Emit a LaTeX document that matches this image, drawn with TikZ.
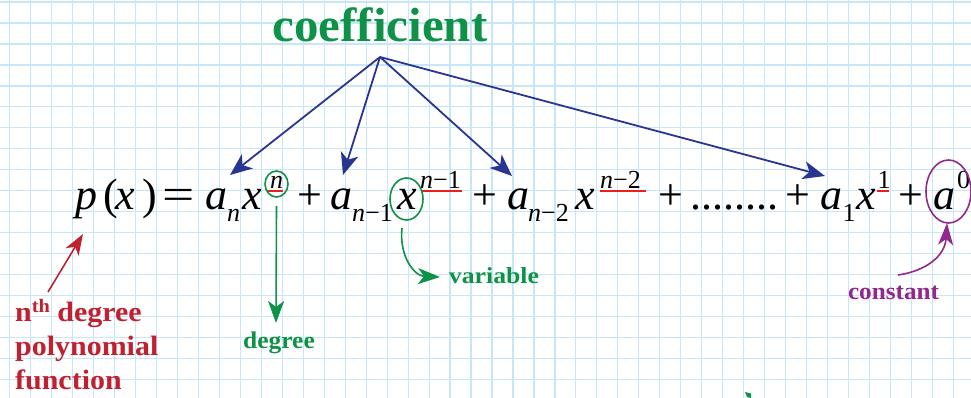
\documentclass[tikz,border=0pt]{standalone}
\usepackage{fontspec}
\setmainfont{Liberation Serif}
\usetikzlibrary{arrows.meta,shapes.geometric}
\definecolor{gridc}{RGB}{200,230,250}
\definecolor{cgreen}{RGB}{14,146,72}
\definecolor{cblue}{RGB}{40,54,145}
\definecolor{cred}{RGB}{192,32,48}
\definecolor{cpurple}{RGB}{146,40,142}
\definecolor{uline}{RGB}{235,30,30}
\tikzset{
  gridline/.style={draw=gridc,line width=1.2pt},
  mathbig/.style={inner sep=0pt,anchor=base west,font=\fontsize{44}{48}\selectfont},
  mathsmall/.style={inner sep=0pt,anchor=base west,font=\fontsize{26}{28}\selectfont},
  ring/.style={ellipse,draw,line width=1.6pt,inner sep=0pt},
  bluearrow/.style={draw=cblue,line width=1.8pt,-{Stealth[length=22pt,width=18pt,inset=6pt]}},
  greenarrow/.style={draw=cgreen,line width=1.6pt,-{Stealth[length=22pt,width=16pt,inset=6pt]}},
  redarrow/.style={draw=cred,line width=1.6pt,-{Stealth[length=21pt,width=15pt,inset=6pt]}},
  purplearrow/.style={draw=cpurple,line width=1.6pt,-{Stealth[length=22pt,width=15pt,inset=6pt]}},
  ulinestyle/.style={draw=uline,line width=2pt},
  lbl/.style={inner sep=0pt,font=\bfseries},
  redlbl/.style={inner sep=0pt,text=cred,anchor=base west,font=\bfseries\fontsize{28}{34}\selectfont}
}
\begin{document}
\begin{tikzpicture}[x=1pt,y=-1pt]
\useasboundingbox (0,0) rectangle (971,398);
\fill[white] (0,0) rectangle (971,398);
% grid
\foreach \i in {0,...,45} \draw[gridline] (9.7+\i*20.97,0) -- (9.7+\i*20.97,398);
\foreach \j in {0,...,18} \draw[gridline] (0,2+\j*20.98) -- (971,2+\j*20.98);

% formula
\node[mathbig] (p) at (75,209) {\itshape p};
\node[mathbig] (lp) at (103,209) {(};
\node[mathbig] (x0) at (115,209) {\itshape x};
\node[mathbig] (rp) at (142,209) {)};
\node[mathbig] (eq) at (162,209) {\scalebox{1.3}[1]{=}};
\node[mathbig] (a1) at (205,209) {\itshape a};
\node[mathsmall] (s1) at (227,222) {\itshape n};
\node[mathbig] (x1) at (242,209) {\itshape x};
\node[mathsmall] (e1) at (270,189) {\itshape n};
\node[mathbig] (pl1) at (297,209) {+};
\node[mathbig] (a2) at (330,209) {\itshape a};
\node[mathsmall] (s2) at (352,222) {\itshape n\upshape−1};
\node[mathbig] (x2) at (397,209) {\itshape x};
\node[mathsmall] (e2) at (420,189) {\itshape n\upshape−1};
\node[mathbig] (pl2) at (472,209) {+};
\node[mathbig] (a3) at (507,209) {\itshape a};
\node[mathsmall] (s3) at (528,222) {\itshape n\upshape−2};
\node[mathbig] (x3) at (575,209) {\itshape x};
\node[mathsmall] (e3) at (600,189) {\itshape n\upshape−2};
\node[mathbig] (pl3) at (658,209) {+};
\node[mathbig] (dots) at (690,209) {........};
\node[mathbig] (pl4) at (785,209) {+};
\node[mathbig] (a4) at (820,209) {\itshape a};
\node[mathsmall] (s4) at (842.5,222) {1};
\node[mathbig] (x4) at (856,209) {\itshape x};
\node[mathsmall] (e4) at (877.5,189) {1};
\node[mathbig] (pl5) at (898,209) {+};
\node[mathbig] (a5) at (933,209) {\itshape a};
\node[mathsmall] (e5) at (957,189) {0};

% red underlines of exponents
\draw[ulinestyle] (267,191.5) -- (283,191.5);
\draw[ulinestyle] (422,191.5) -- (462,191.5);
\draw[ulinestyle] (600,191.5) -- (646,191.5);
\draw[ulinestyle] (877,191.5) -- (889,191.5);

% rings
\node[ring,draw=cgreen,minimum width=23pt,minimum height=26pt] (cn) at (276.5,184) {};
\node[ring,draw=cgreen,minimum width=33pt,minimum height=42pt] (cx) at (406.5,199) {};
\node[ring,draw=cpurple,minimum width=45pt,minimum height=63pt] (ca) at (948.5,191.5) {};

% labels
\node[lbl,text=cgreen,anchor=base,font=\bfseries\fontsize{48}{50}\selectfont] (coef) at (380,42) {\scalebox{1.02}[1]{coefficient}};
\node[lbl,text=cgreen,anchor=base,font=\bfseries\fontsize{24}{26}\selectfont] (deg) at (279,348) {\scalebox{1.06}[1]{degree}};
\node[lbl,text=cgreen,anchor=base,font=\bfseries\fontsize{23}{26}\selectfont] (var) at (494,283) {\scalebox{1.12}[1]{variable}};
\node[lbl,text=cpurple,anchor=base,font=\bfseries\fontsize{24}{26}\selectfont] (con) at (893.5,299) {\scalebox{1.05}[1]{constant}};
\node[redlbl] (poly1) at (15,321) {\scalebox{1.07}[1]{n\raisebox{9pt}{\fontsize{19}{19}\selectfont th} degree}};
\node[redlbl] (poly2) at (15,355) {\scalebox{1.07}[1]{polynomial}};
\node[redlbl] (poly3) at (15,389) {\scalebox{1.07}[1]{function}};

% connectors
\coordinate (co) at (380,57);
\coordinate (t1) at (230,175);
\coordinate (t2) at (343,175);
\coordinate (t3) at (512,176);
\coordinate (t4) at (825,176);
\draw[bluearrow] (co) -- (t1);
\draw[bluearrow] (co) -- (t2);
\draw[bluearrow] (co) -- (t3);
\draw[bluearrow] (co) -- (t4);

\coordinate (dtip) at (276,323);
\draw[greenarrow] ([yshift=-8pt]cn.south) -- (dtip);

\coordinate (vs) at (402,228);
\coordinate (vt) at (440,277);
\draw[greenarrow] (vs) .. controls (399,256) and (414,276) .. (vt);

\coordinate (cs) at (898,275);
\coordinate (ct) at (947,223);
\draw[purplearrow] (cs) .. controls (926,271) and (945,256) .. (ct);

\coordinate (rs) at (48,292);
\coordinate (rt) at (83,234);
\draw[redarrow] (rs) -- (rt);

% small green mark at bottom edge
\fill[cgreen] (745,392) -- (751,393.5) -- (751,398) -- (747,397) -- cycle;
\end{tikzpicture}
\end{document}
